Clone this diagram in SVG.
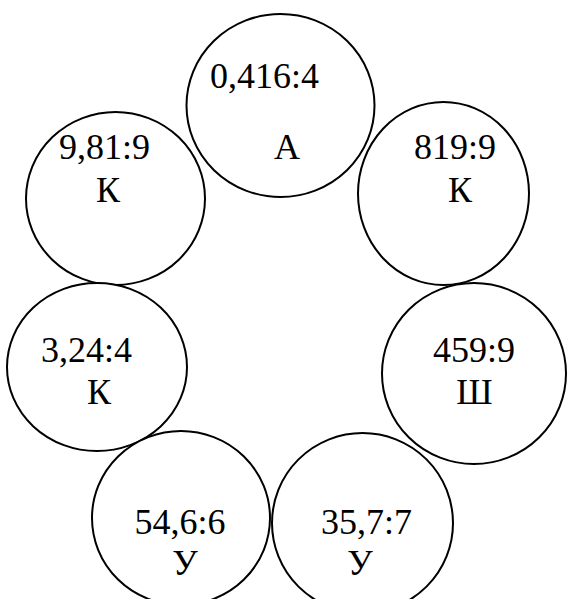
<svg xmlns="http://www.w3.org/2000/svg" width="567" height="599" viewBox="0 0 567 599">
<style>
.c{fill:#fff;stroke:#000;stroke-width:2}
.t{font-family:"Liberation Serif","Times New Roman",serif;font-size:36px;fill:#000;text-anchor:middle}
</style>
<rect width="567" height="599" fill="#fff"/>
<g id="connectors"></g>
<g id="n1"><ellipse class="c" cx="280.5" cy="105.5" rx="94" ry="91.5"/><text class="t" x="264.5" y="88">0,416:4</text><text class="t" x="287" y="159">А</text></g>
<g id="n2"><ellipse class="c" cx="115.5" cy="198.5" rx="89.5" ry="86.5"/><text class="t" x="104.5" y="159">9,81:9</text><text class="t" x="108" y="202">К</text></g>
<g id="n3"><ellipse class="c" cx="443.5" cy="193.5" rx="85.5" ry="91.5"/><text class="t" x="455" y="159">819:9</text><text class="t" x="460" y="202">К</text></g>
<g id="n4"><ellipse class="c" cx="97" cy="367" rx="90" ry="84"/><text class="t" x="86.5" y="362">3,24:4</text><text class="t" x="99" y="404">К</text></g>
<g id="n5"><ellipse class="c" cx="474" cy="373.5" rx="92" ry="90.5"/><text class="t" x="474" y="362">459:9</text><text class="t" x="474.5" y="404">Ш</text></g>
<g id="n6"><ellipse class="c" cx="181" cy="518" rx="89" ry="87"/><text class="t" x="180" y="534">54,6:6</text><text class="t" x="185" y="575">У</text></g>
<g id="n7"><ellipse class="c" cx="362.5" cy="523" rx="90.5" ry="90"/><text class="t" x="366.5" y="534">35,7:7</text><text class="t" x="360" y="575">У</text></g>
</svg>
